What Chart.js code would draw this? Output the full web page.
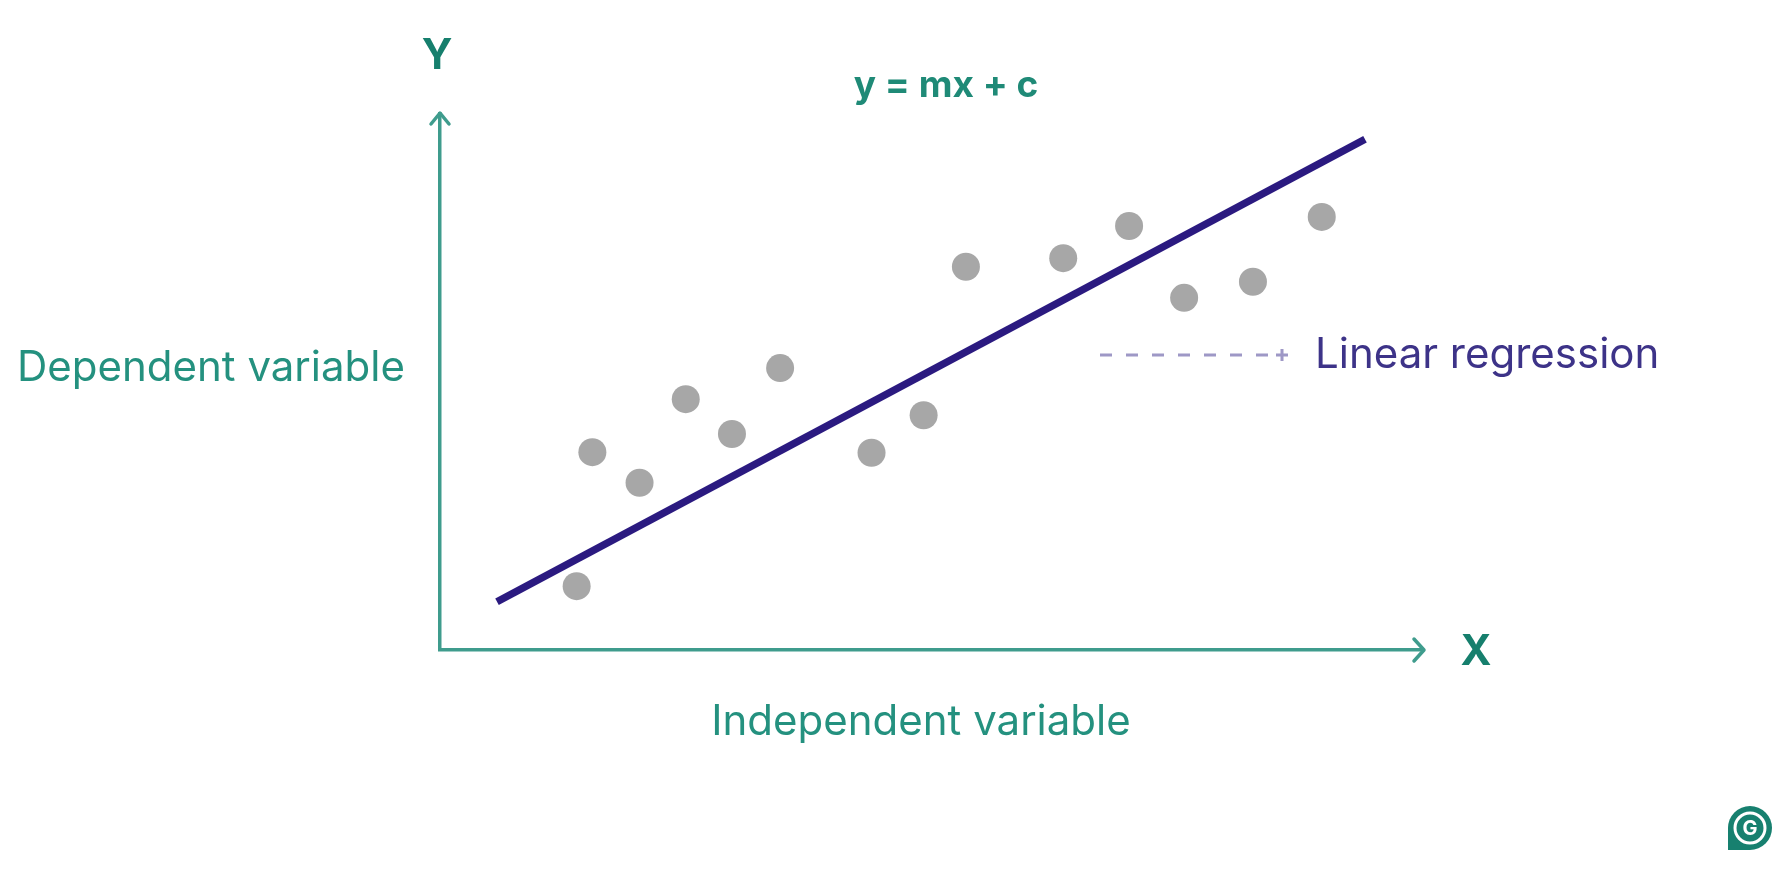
<!DOCTYPE html>
<html>
<head>
<meta charset="utf-8">
<script src="https://cdn.jsdelivr.net/npm/chart.js@4"></script>
<style>
  html, body { margin: 0; padding: 0; background: #fff; }
</style>
</head>
<body>
<canvas id="regChart" width="1788" height="871"></canvas>
<script>
// scatter points (x in 0..100, y in 0..100)
const pointX = [13.9, 15.5, 20.3, 25.0, 29.7, 34.6, 43.9, 49.2, 53.5, 63.4, 70.1, 75.7, 82.7, 89.7]
const pointY = [11.9, 36.9, 31.2, 46.8, 40.3, 52.6, 36.8, 43.8, 71.5, 73.1, 79.1, 65.7, 68.7, 80.8]
// regression line end points
const lineX = [5.8, 94.1]
const lineY = [9.0, 95.3]

const xLabel = 'Independent variable'
const yLabel = 'Dependent variable'
const equation = 'y = mx + c'
const legendText = 'Linear regression'

const teal = '#3f9c8d'
const tealText = '#24917f'
const navy = '#2b1a80'
const FONT = 'Inter, Roboto, sans-serif'

const decorations = {
  id: 'decorations',
  afterDraw(chart) {
    const { ctx, chartArea: a } = chart
    ctx.save()

    // arrow heads
    ctx.strokeStyle = teal
    ctx.lineWidth = 3.5
    ctx.lineCap = 'round'
    ctx.lineJoin = 'round'
    ctx.beginPath()
    ctx.moveTo(a.left - 9, a.top + 10)
    ctx.lineTo(a.left, a.top - 1)
    ctx.lineTo(a.left + 9, a.top + 10)
    ctx.stroke()
    ctx.beginPath()
    ctx.moveTo(a.right - 9, a.bottom - 11)
    ctx.lineTo(a.right + 1, a.bottom)
    ctx.lineTo(a.right - 9, a.bottom + 11)
    ctx.stroke()

    // axis letters
    ctx.fillStyle = '#167f6d'
    ctx.font = 'bold 42px ' + FONT
    ctx.textAlign = 'center'
    ctx.textBaseline = 'middle'
    ctx.fillText('Y', a.left - 3, a.top - 58)
    ctx.fillText('X', a.right + 53, a.bottom + 2)

    // equation
    ctx.font = 'bold 37px ' + FONT
    ctx.fillStyle = '#1f8a77'
    ctx.fillText(equation, 946, 86)

    // axis titles
    ctx.font = '42px ' + FONT
    ctx.fillStyle = tealText
    ctx.fillText(xLabel, 921, a.bottom + 72)
    ctx.textAlign = 'left'
    ctx.fillText(yLabel, 17, 368)

    // legend
    ctx.strokeStyle = '#9e98c6'
    ctx.lineWidth = 3
    ctx.lineCap = 'butt'
    ctx.setLineDash([12, 14])
    ctx.beginPath()
    ctx.moveTo(1100, 355)
    ctx.lineTo(1270, 355)
    ctx.stroke()
    ctx.setLineDash([])
    ctx.beginPath()
    ctx.moveTo(1276, 355); ctx.lineTo(1288, 355)
    ctx.moveTo(1282, 349); ctx.lineTo(1282, 361)
    ctx.stroke()
    ctx.fillStyle = '#3d3388'
    ctx.font = '42px ' + FONT
    ctx.fillText(legendText, 1315, 355)

    // logo
    const lx = 1750, ly = 828
    ctx.fillStyle = '#17806f'
    ctx.beginPath()
    ctx.arc(lx, ly, 22, 0, Math.PI * 2)
    ctx.fill()
    ctx.fillRect(lx - 22, ly, 22, 22)
    ctx.strokeStyle = '#ffffff'
    ctx.lineWidth = 3
    ctx.beginPath()
    ctx.arc(lx, ly, 15, 0, Math.PI * 2)
    ctx.stroke()
    ctx.fillStyle = '#ffffff'
    ctx.font = 'bold 20px ' + FONT
    ctx.textAlign = 'center'
    ctx.fillText('G', lx, ly + 1)

    ctx.restore()
  },
}

new Chart(document.getElementById('regChart'), {
  type: 'scatter',
  data: {
    datasets: [
      {
        label: 'Data',
        data: pointX.map((x, i) => ({ x, y: pointY[i] })),
        backgroundColor: '#a7a7a7',
        borderWidth: 0,
        pointRadius: 14,
      },
      {
        type: 'line',
        label: legendText,
        data: lineX.map((x, i) => ({ x, y: lineY[i] })),
        borderColor: navy,
        borderWidth: 7.5,
        pointRadius: 0,
        fill: false,
      },
    ],
  },
  options: {
    responsive: false,
    animation: false,
    devicePixelRatio: 1,
    layout: { padding: { left: 440, right: 365, top: 114, bottom: 221 } },
    plugins: { legend: { display: false }, tooltip: { enabled: false } },
    scales: {
      x: {
        type: 'linear', min: 0, max: 100,
        grid: { display: false, drawTicks: false },
        ticks: { display: false },
        border: { display: true, color: teal, width: 3.5 },
      },
      y: {
        type: 'linear', min: 0, max: 100,
        grid: { display: false, drawTicks: false },
        ticks: { display: false },
        border: { display: true, color: teal, width: 3.5 },
      },
    },
  },
  plugins: [decorations],
})
</script>
</body>
</html>
